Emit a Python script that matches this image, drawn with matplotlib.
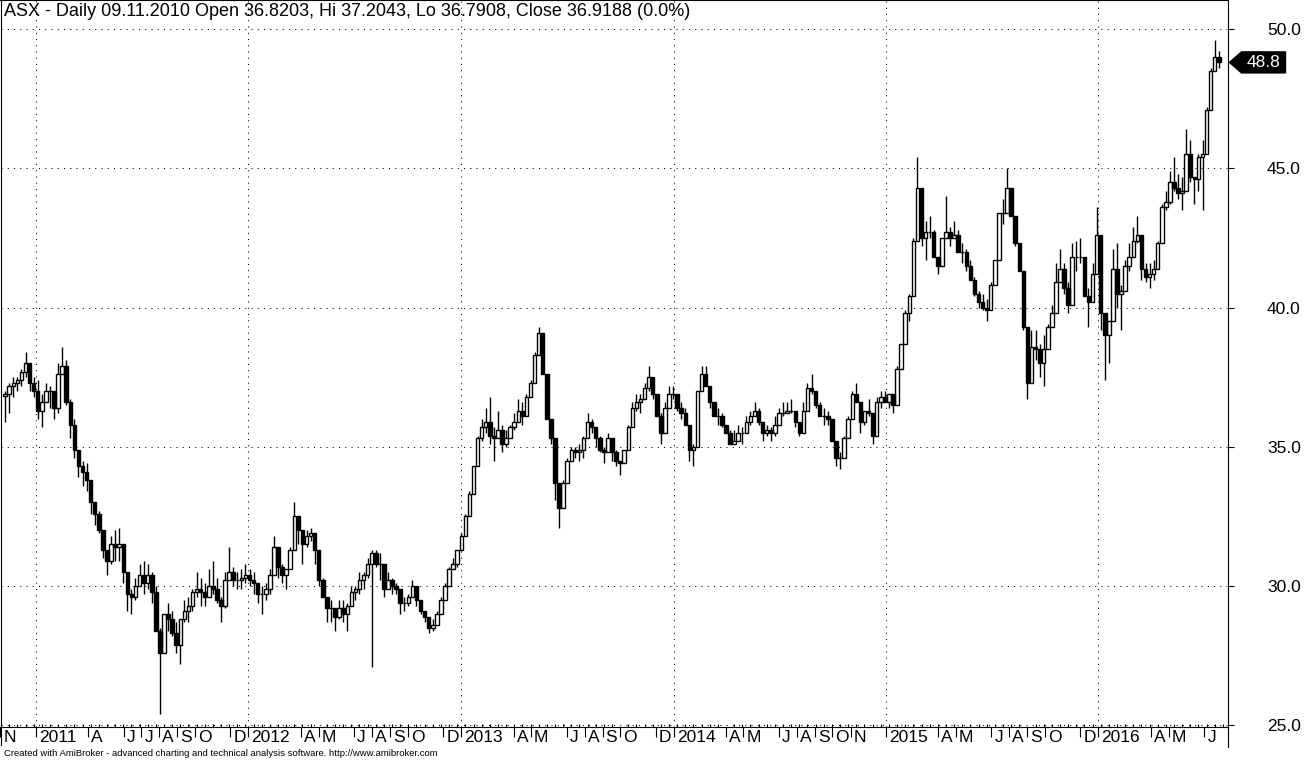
import numpy as np
import pandas as pd
import matplotlib
matplotlib.use("Agg")
import matplotlib.pyplot as plt
import matplotlib.dates as mdates
from matplotlib.patches import Polygon
from matplotlib.transforms import blended_transform_factory, offset_copy

plt.rcParams["font.family"] = ["Liberation Sans", "DejaVu Sans"]

TITLE = "ASX - Daily 09.11.2010 Open 36.8203, Hi 37.2043, Lo 36.7908, Close 36.9188 (0.0%)"
FOOTER = ("Created with AmiBroker - advanced charting and technical analysis software. "
          "http://www.amibroker.com")

# weekly bars (one bar per week from 09.11.2010)
first_date = "2010-11-09"
first_open = 36.82
weekly_close = [
    36.9, 37.2, 37.3, 37.4, 37.7, 38.0, 37.3, 37.0, 36.3, 36.6,
    37.0, 37.0, 36.4, 37.6, 37.9, 36.6, 35.8, 34.9, 34.3, 34.1,
    33.8, 33.0, 32.6, 32.0, 31.3, 30.9, 31.5, 31.4, 31.5, 30.5,
    29.7, 29.6, 30.0, 30.4, 30.1, 30.4, 29.8, 28.4, 27.6, 29.0,
    28.8, 28.3, 27.9, 28.8, 29.1, 29.3, 29.8, 29.9, 29.8, 29.6,
    30.0, 29.9, 29.5, 29.3, 30.2, 30.5, 30.2, 30.2, 30.3, 30.4,
    30.2, 30.1, 29.7, 29.7, 29.9, 30.4, 31.4, 30.7, 30.4, 30.6,
    31.3, 32.5, 32.0, 31.5, 31.8, 31.9, 31.3, 30.2, 29.6, 29.2,
    29.2, 28.9, 29.2, 29.0, 29.3, 29.8, 29.9, 30.2, 30.4, 30.8,
    31.2, 30.8, 30.8, 29.9, 30.2, 30.0, 29.9, 29.4, 29.4, 29.6,
    30.0, 29.5, 29.1, 28.9, 28.5, 28.6, 29.0, 29.5, 30.0, 30.6,
    30.8, 31.3, 31.8, 32.5, 33.3, 34.3, 35.3, 35.7, 35.9, 35.4,
    35.3, 35.6, 35.1, 35.3, 35.7, 35.9, 36.3, 36.1, 36.8, 37.3,
    38.3, 39.1, 37.6, 36.0, 35.3, 33.7, 32.8, 33.7, 34.5, 34.9,
    34.8, 34.9, 35.3, 35.9, 35.7, 35.3, 34.9, 34.8, 35.3, 34.8,
    34.5, 34.4, 34.9, 35.7, 36.4, 36.6, 36.7, 37.1, 37.5, 36.9,
    36.1, 35.5, 36.4, 36.9, 36.9, 36.4, 36.2, 35.8, 34.9, 35.0,
    37.0, 37.6, 37.2, 36.6, 36.1, 36.1, 35.8, 35.5, 35.1, 35.2,
    35.5, 35.5, 35.9, 36.1, 36.3, 35.9, 35.5, 35.6, 35.5, 35.8,
    36.2, 36.2, 36.3, 36.3, 35.9, 35.5, 36.3, 37.1, 37.0, 36.5,
    36.1, 36.1, 36.0, 35.2, 34.6, 34.6, 35.3, 36.0, 36.9, 36.6,
    35.9, 36.3, 36.2, 35.4, 36.6, 36.8, 36.6, 36.9, 36.5, 37.8,
    38.7, 39.8, 40.4, 42.4, 44.3, 42.5, 42.7, 42.7, 41.8, 41.5,
    42.5, 42.7, 42.5, 42.6, 42.0, 42.0, 41.5, 41.0, 40.5, 40.2,
    40.0, 39.9, 40.8, 41.7, 43.4, 43.4, 44.3, 43.3, 42.3, 41.3,
    39.3, 37.3, 38.6, 38.5, 38.0, 38.5, 39.3, 39.8, 40.9, 41.4,
    40.7, 40.1, 41.8, 41.8, 41.8, 40.4, 40.2, 41.2, 42.6, 39.8,
    39.0, 39.5, 41.4, 40.5, 40.6, 41.5, 41.8, 42.4, 42.6, 41.4,
    41.1, 41.2, 41.4, 42.3, 43.6, 43.8, 44.5, 44.3, 44.1, 44.2,
    45.5, 44.7, 44.6, 45.4, 45.5, 47.1, 48.5, 49.0, 48.8,
]
weekly_high = [
    37.0, 37.3, 37.5, 37.5, 37.8, 38.4, 38.0, 37.5, 37.4, 36.9,
    37.3, 37.2, 36.7, 38.0, 38.6, 38.1, 36.7, 36.0, 34.9, 34.5,
    34.4, 33.4, 33.0, 32.7, 32.0, 31.3, 31.8, 32.0, 32.1, 31.1,
    30.2, 29.9, 30.3, 30.8, 30.9, 30.8, 30.5, 30.0, 28.5, 28.9,
    29.4, 29.1, 28.7, 28.8, 29.5, 29.6, 29.9, 30.5, 30.3, 30.1,
    30.6, 30.9, 30.3, 29.6, 30.5, 31.4, 30.7, 30.5, 30.6, 30.8,
    30.6, 30.5, 30.1, 30.0, 30.1, 30.6, 31.8, 31.1, 30.8, 30.6,
    31.4, 33.0, 32.5, 31.8, 32.0, 32.1, 31.9, 30.9, 30.3, 29.6,
    29.5, 29.1, 29.5, 29.5, 29.4, 30.0, 30.0, 30.5, 30.5, 31.0,
    31.3, 31.3, 31.2, 30.8, 30.5, 30.3, 30.1, 29.7, 29.6, 29.7,
    30.2, 29.9, 29.5, 29.1, 28.9, 28.8, 29.1, 29.6, 30.1, 30.7,
    31.0, 31.3, 31.9, 32.6, 33.4, 34.3, 35.4, 36.0, 36.4, 36.8,
    35.7, 36.3, 35.8, 35.6, 35.8, 36.2, 36.7, 36.6, 36.9, 37.4,
    38.4, 39.3, 38.8, 37.3, 36.0, 34.4, 33.6, 33.8, 34.6, 35.0,
    35.0, 35.1, 35.4, 36.2, 36.0, 35.7, 35.4, 35.0, 35.5, 35.0,
    34.9, 34.4, 34.9, 35.8, 36.6, 36.9, 36.9, 37.3, 37.9, 37.4,
    36.8, 36.2, 36.6, 37.2, 37.2, 36.9, 36.6, 36.4, 35.6, 35.1,
    36.9, 37.9, 37.9, 37.0, 36.4, 36.4, 36.2, 35.8, 35.6, 35.6,
    35.8, 35.7, 36.1, 36.3, 36.6, 36.4, 35.8, 35.8, 35.7, 36.1,
    36.4, 36.6, 36.6, 36.7, 36.3, 35.8, 36.6, 37.3, 37.6, 36.9,
    36.6, 36.4, 36.3, 35.8, 34.9, 34.8, 35.4, 36.1, 37.0, 37.3,
    36.1, 36.3, 36.7, 35.9, 36.8, 37.0, 37.0, 36.9, 36.8, 37.9,
    38.7, 39.9, 40.5, 42.5, 45.4, 43.3, 43.1, 43.3, 42.8, 41.8,
    42.5, 44.0, 42.9, 43.1, 42.8, 42.3, 42.1, 41.7, 41.1, 40.6,
    40.5, 40.3, 40.9, 41.6, 43.4, 43.9, 45.0, 44.2, 43.0, 42.3,
    41.3, 39.2, 39.2, 39.2, 38.7, 39.0, 39.4, 40.1, 41.6, 42.1,
    41.6, 40.9, 42.3, 42.4, 42.5, 41.7, 40.7, 41.6, 43.6, 42.2,
    39.7, 39.5, 42.1, 42.3, 40.8, 41.7, 42.3, 42.9, 43.3, 42.3,
    41.6, 41.6, 41.7, 42.4, 43.7, 44.2, 44.9, 45.4, 44.8, 44.7,
    46.4, 46.0, 44.7, 45.5, 46.0, 47.2, 48.6, 49.6, 49.2,
]
weekly_low = [
    35.9, 36.2, 36.8, 37.0, 37.2, 37.5, 37.0, 36.8, 36.0, 35.7,
    36.6, 36.4, 36.0, 36.2, 37.8, 36.5, 35.3, 34.6, 33.9, 33.6,
    33.4, 32.6, 32.2, 31.9, 31.0, 30.4, 30.8, 30.9, 30.9, 30.1,
    29.1, 29.0, 29.5, 30.1, 29.7, 29.9, 29.4, 28.7, 25.4, 27.7,
    28.4, 28.2, 27.6, 27.2, 28.7, 28.7, 29.1, 29.6, 29.3, 29.3,
    29.6, 29.7, 29.4, 28.7, 29.2, 30.4, 30.0, 29.9, 29.9, 30.1,
    30.0, 29.7, 29.4, 29.0, 29.5, 29.7, 30.8, 30.3, 30.1, 29.9,
    30.6, 31.4, 31.5, 30.8, 31.4, 31.6, 30.8, 30.0, 29.6, 28.7,
    28.7, 28.4, 28.8, 28.7, 28.4, 29.5, 29.5, 29.7, 29.9, 30.3,
    27.1, 30.7, 30.2, 29.6, 29.9, 29.7, 29.7, 29.0, 29.1, 29.3,
    29.6, 29.3, 29.0, 28.7, 28.3, 28.4, 28.7, 29.1, 29.5, 30.1,
    30.6, 30.7, 31.3, 31.8, 32.6, 33.6, 34.6, 35.2, 35.5, 35.1,
    34.5, 35.5, 34.8, 35.0, 35.4, 35.6, 36.0, 35.8, 36.3, 36.8,
    37.4, 38.6, 37.9, 36.2, 35.1, 33.1, 32.1, 33.0, 33.9, 34.5,
    34.6, 34.5, 34.6, 35.6, 35.5, 35.0, 34.8, 34.4, 34.9, 34.5,
    34.3, 34.0, 34.4, 35.0, 35.8, 36.3, 36.2, 36.8, 37.0, 36.7,
    36.1, 35.1, 35.6, 36.6, 36.7, 36.3, 36.0, 35.8, 34.5, 34.3,
    35.6, 37.2, 37.3, 36.4, 36.1, 35.8, 35.7, 35.5, 35.1, 35.1,
    35.5, 35.1, 35.6, 35.8, 36.2, 35.8, 35.2, 35.4, 35.2, 35.4,
    35.9, 36.1, 36.2, 36.2, 35.7, 35.4, 35.8, 36.8, 36.9, 36.4,
    36.1, 35.8, 35.8, 35.2, 34.3, 34.2, 34.9, 35.5, 36.3, 36.6,
    35.5, 35.8, 36.1, 35.1, 35.8, 36.4, 36.6, 36.4, 36.2, 36.8,
    37.8, 39.0, 39.5, 40.7, 43.0, 42.2, 41.7, 42.5, 41.8, 41.2,
    41.6, 42.8, 42.2, 42.5, 42.1, 41.6, 41.3, 41.0, 40.4, 40.0,
    39.9, 39.5, 40.1, 40.9, 41.7, 43.0, 43.5, 43.3, 42.2, 41.6,
    39.2, 36.7, 37.3, 38.1, 37.5, 37.2, 38.6, 39.4, 40.0, 41.3,
    40.5, 39.8, 40.9, 41.3, 41.6, 40.4, 39.3, 40.5, 42.1, 39.2,
    37.4, 38.0, 39.9, 40.0, 39.2, 40.6, 41.3, 41.8, 42.3, 41.0,
    40.9, 40.7, 41.0, 41.6, 42.3, 43.5, 43.7, 44.2, 43.9, 43.5,
    44.3, 44.5, 43.7, 44.2, 43.5, 45.9, 47.6, 48.8, 48.6,
]

# months that carry a label on the time axis
month_ticks = ["2010-11", "2011-01", "2011-04", "2011-06", "2011-07", "2011-08", "2011-09",
               "2011-10", "2011-12", "2012-01", "2012-04", "2012-05", "2012-07", "2012-08",
               "2012-09", "2012-10", "2012-12", "2013-01", "2013-04", "2013-05", "2013-07",
               "2013-08", "2013-09", "2013-10", "2013-12", "2014-01", "2014-04", "2014-05",
               "2014-07", "2014-08", "2014-09", "2014-10", "2014-11", "2015-01", "2015-04",
               "2015-05", "2015-07", "2015-08", "2015-09", "2015-10", "2015-12", "2016-01",
               "2016-04", "2016-05", "2016-07"]
month_letters = "JFMAMJJASOND"
y_ticks = [25.0, 30.0, 35.0, 40.0, 45.0, 50.0]

dates = pd.date_range(first_date, periods=len(weekly_close), freq="7D")
close = np.array(weekly_close)
opens = np.concatenate([[first_open], close[:-1]])
high = np.maximum(np.array(weekly_high), np.maximum(opens, close))
low = np.minimum(np.array(weekly_low), np.minimum(opens, close))
up = close >= opens

W, H = 1313, 760
fig = plt.figure(figsize=(W / 100, H / 100), dpi=100)
ax = fig.add_axes([0.5 / W, 33 / H, 1227.5 / W, 727 / H])

# candles: shadows first, bodies on top
ax.vlines(dates, low, high, color="black", linewidth=1.0, zorder=2)
ax.bar(dates[up], (close - opens)[up], bottom=opens[up], width=6,
       facecolor="white", edgecolor="black", linewidth=1.0, zorder=3)
ax.bar(dates[~up], (close - opens)[~up], bottom=opens[~up], width=6,
       facecolor="black", edgecolor="black", linewidth=1.0, zorder=3)

# x range: 01.01.2011 at px 32, 01.01.2016 at px 1098
d11 = mdates.date2num(pd.Timestamp("2011-01-01"))
d16 = mdates.date2num(pd.Timestamp("2016-01-01"))
ppd = (1098 - 32.4) / (d16 - d11)
ax.set_xlim(d11 - 32.4 / ppd, d16 + (1228 - 1098) / ppd)
ax.set_ylim(24.94, 51.04)

dotted = dict(color="black", linewidth=0.75, linestyle=(0, (1, 5)))
tick_dates = pd.to_datetime(month_ticks)
for d in tick_dates:
    if d.month == 1:
        ax.axvline(d, zorder=1, **dotted)
for v in y_ticks:
    ax.axhline(v, zorder=1, **dotted)

# time axis
ax.set_xticks(tick_dates)
ax.xaxis.set_minor_locator(matplotlib.ticker.FixedLocator(
    mdates.date2num(pd.date_range("2010-11-02", "2016-08-16", freq="14D"))))
ax.tick_params(axis="x", which="major", direction="out", length=7.5, width=0.8,
               labelbottom=False)
ax.tick_params(axis="x", which="minor", direction="in", length=2.5, width=0.8)
tr = blended_transform_factory(ax.transData, ax.transAxes)
tr_lab = offset_copy(tr, fig=fig, x=3, y=0, units="dots")
for d in tick_dates:
    lab = str(d.year) if d.month == 1 else month_letters[d.month - 1]
    ax.text(d, -11 / 727, lab, transform=tr_lab, ha="left", va="center",
            fontsize=12.5, clip_on=False)

# price axis on the right
ax.yaxis.tick_right()
ax.set_yticks(y_ticks)
ax.set_yticklabels([f"{v:.1f}" for v in y_ticks])
ax.tick_params(axis="y", direction="out", length=4, width=0.8, pad=24, labelsize=12.5)

for s in ax.spines.values():
    s.set_linewidth(0.8)
ax.plot([0, 0], [0, -18 / 727], transform=ax.transAxes, color="black", lw=0.8, clip_on=False)
ax.plot([1, 1], [0, -20 / 727], transform=ax.transAxes, color="black", lw=0.8, clip_on=False)

# last value marker
last = close[-1]
trm = blended_transform_factory(ax.transAxes, ax.transData)
h = 10.5 / 27.85
px = lambda p: p / 1227.5
ax.add_patch(Polygon([(px(1229), last), (px(1241), last + h), (px(1285), last + h),
                      (px(1285), last - h), (px(1241), last - h)],
                     closed=True, transform=trm, facecolor="black", edgecolor="black",
                     clip_on=False))
ax.text(px(1263), last, f"{last:.1f}", transform=trm, color="white", ha="center",
        va="center", fontsize=12.5, clip_on=False)

fig.text(4 / W, 1 - 12 / H, TITLE, fontsize=13, va="center", ha="left")
fig.text(4 / W, 1 - 753 / H, FOOTER, fontsize=6.8, va="center", ha="left")

fig.savefig("out.png", dpi=100)
